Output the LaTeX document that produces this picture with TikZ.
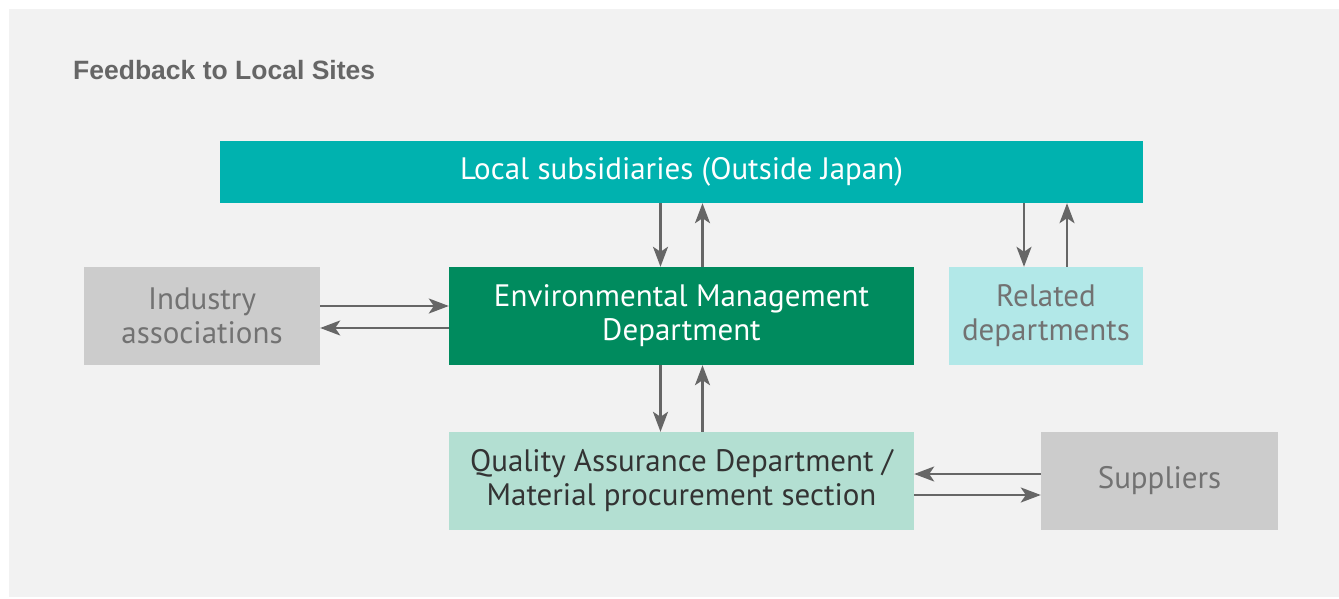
\documentclass[tikz,border=0pt]{standalone}
\usepackage{fontspec}
\setmainfont{PT Sans}
\newfontfamily\titlefont{Liberation Sans}
\usetikzlibrary{arrows.meta}
\definecolor{sheet-bg}{HTML}{F2F2F2}
\definecolor{teal-top}{HTML}{00B2AF}
\definecolor{env-green}{HTML}{008B5E}
\definecolor{light-cyan}{HTML}{B2E8E8}
\definecolor{mint}{HTML}{B3DFD2}
\definecolor{box-gray}{HTML}{CCCCCC}
\definecolor{text-gray}{HTML}{727272}
\definecolor{title-gray}{HTML}{666666}
\definecolor{arrow-gray}{HTML}{666666}

\begin{document}
\begin{tikzpicture}[x=1pt, y=-1pt,
      every node/.style={inner sep=0pt, align=center,
        font=\fontsize{31}{34}\selectfont},
      unit/.style={minimum width=#1, minimum height=98pt},
      flow/.style={draw=arrow-gray, line width=2.3pt,
        -{Stealth[length=20pt, width=15pt, inset=5pt]}}]
    \useasboundingbox (0,0) rectangle (1339,599);
    \fill[sheet-bg] (9,9) rectangle (1339,597);
    % ---- title
    \node[anchor=base west, text=title-gray,
      font=\titlefont\bfseries\fontsize{26.5}{30}\selectfont]
      (title) at (73,80) {Feedback to Local Sites};
    % ---- top row
    \node[fill=teal-top, text=white, minimum width=923pt, minimum height=62pt]
      (local) at (681.5,172) {Local subsidiaries (Outside Japan)};
    % ---- middle row
    \node[unit=465pt, fill=env-green, text=white]
      (env) at (681.5,316) {Environmental Management\\Department};
    \node[unit=236pt, fill=box-gray, text=text-gray]
      (industry) at (202,316) {Industry\\associations};
    \node[unit=194pt, fill=light-cyan, text=text-gray]
      (related) at (1046,316) {Related\\departments};
    % ---- bottom row
    \node[unit=465pt, fill=mint, text=black!80]
      (quality) at (681.5,481) {Quality Assurance Department /\\Material procurement section};
    \node[unit=237pt, fill=box-gray, text=text-gray]
      (suppliers) at (1159.5,481) {Suppliers};
    % ---- arrows
    \draw[flow] ([xshift=-21pt]env.north |- local.south) -- ([xshift=-21pt]env.north);
    \draw[flow] ([xshift=21pt]env.north) -- ([xshift=21pt]env.north |- local.south);
    \draw[flow] ([xshift=-22pt]related.north |- local.south) -- ([xshift=-22pt]related.north);
    \draw[flow] ([xshift=21pt]related.north) -- ([xshift=21pt]related.north |- local.south);
    \draw[flow] ([yshift=10pt]industry.east) -- ([yshift=10pt]env.west);
    \draw[flow] ([yshift=-12pt]env.west) -- ([yshift=-12pt]industry.east);
    \draw[flow] ([xshift=-21pt]env.south) -- ([xshift=-21pt]quality.north);
    \draw[flow] ([xshift=21pt]quality.north) -- ([xshift=21pt]env.south);
    \draw[flow] ([yshift=7pt]suppliers.west) -- ([yshift=7pt]quality.east);
    \draw[flow] ([yshift=-14pt]quality.east) -- ([yshift=-14pt]suppliers.west);
\end{tikzpicture}
\end{document}
